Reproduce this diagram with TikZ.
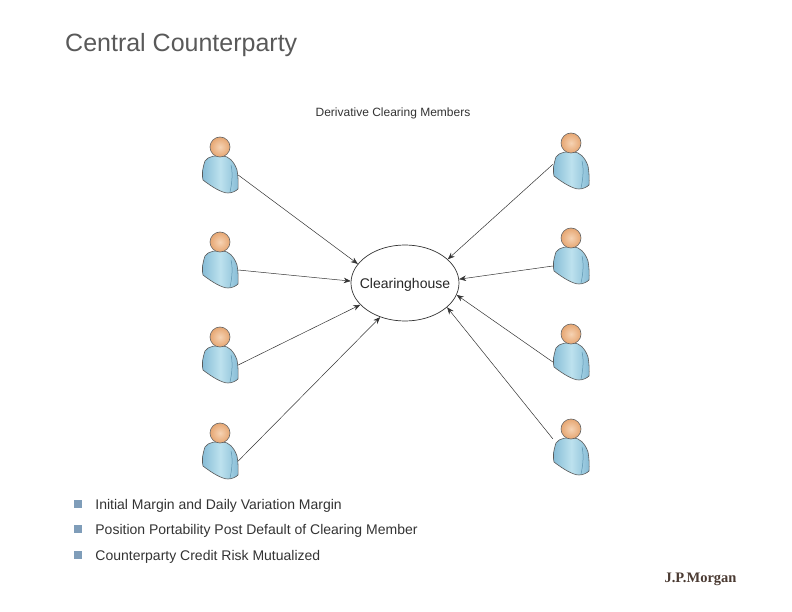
\documentclass[tikz,border=0pt]{standalone}
\usepackage{fontspec}
\setmainfont{Liberation Sans}
\newfontfamily\logofont{Liberation Serif}
\usepackage{xcolor}
\usetikzlibrary{arrows.meta,positioning,shapes.geometric}
\definecolor{titlegray}{HTML}{595959}
\definecolor{bulletblue}{HTML}{7F9DB9}
\definecolor{logobrown}{HTML}{4A3A32}
\definecolor{bodyedge}{HTML}{86BCD6}
\definecolor{bodylight}{HTML}{BDE2EE}
\definecolor{bodyseam}{HTML}{5E94B0}
\definecolor{skinlight}{HTML}{F6D3B4}
\definecolor{skindark}{HTML}{E6A672}
\tikzset{
  member/.style={rectangle, minimum width=36pt, minimum height=36pt, inner sep=0pt},
  hub/.style={ellipse, draw=black!80, line width=0.7pt, minimum width=108pt, minimum height=76pt,
    inner xsep=-8pt, inner ysep=0pt, text depth=0pt, font=\fontsize{14}{16}\selectfont, text=black!85},
  tr/.style={-{Stealth[length=7pt,width=5.5pt]}, draw=black!80, line width=0.5pt},
  bullet/.style={rectangle, fill=bulletblue, minimum size=8pt, inner sep=0pt},
  point/.style={font=\fontsize{14}{16}\selectfont, text=black!80, inner sep=0pt, text height=10pt, text depth=0pt},
  pics/user/.style={code={
    % shoulders and torso
    \draw[draw=black!65, line width=0.6pt, left color=bodyedge, right color=bodyedge, middle color=bodylight]
      (-15,-14) .. controls (-18,-5) and (-18,0) .. (-17,5)
      .. controls (-8,12) and (2,18) .. (8,18)
      .. controls (12,18) and (16,16) .. (18,14)
      .. controls (18.5,8) and (18,0) .. (17,-5)
      .. controls (14,-14) and (8,-19) .. (3,-19)
      .. controls (-3,-20) and (-12,-19) .. (-15,-14) -- cycle;
    \draw[bodyseam, line width=0.5pt] (11,-10) .. controls (13,-2) and (12,8) .. (10,17);
    % head
    \draw[draw=black!60, line width=0.6pt, inner color=skinlight, outer color=skindark] (0,-28) circle (10);
  }},
}
\begin{document}
\begin{tikzpicture}[x=1pt, y=-1pt]
  \useasboundingbox (0,0) rectangle (792,612);
  \node[anchor=base west, inner sep=0pt, text=titlegray, font=\fontsize{25}{28}\selectfont] (title) at (65,52) {Central Counterparty};
  \node[font=\fontsize{12}{14}\selectfont, text=black!80, inner sep=0pt, text depth=0pt] (caption) at (393,112) {Derivative Clearing Members};
  \node[hub] (house) at (405,283) {Clearinghouse};
  % left column, then right column
  \node[member] (m1) at (220,175) {};
  \node[member] (m2) at (220,270) {};
  \node[member] (m3) at (220,365) {};
  \node[member] (m4) at (220,461) {};
  \node[member] (m5) at (571,171) {};
  \node[member] (m6) at (571,266) {};
  \node[member] (m7) at (571,362) {};
  \node[member] (m8) at (571,457) {};
  \foreach \i in {1,...,8} \pic at (m\i) {user};
  \draw[tr] (m1.east) -- (house.158);
  \draw[tr] (m2.east) -- (house.178);
  \draw[tr] (m3.east) -- (house.206);
  \draw[tr] (m4.east) -- (house.234);
  \draw[tr] (m5.160) -- (house.29);
  \draw[tr] (m6.west) -- (house.4);
  \draw[tr] (m7.west) -- (house.347);
  \draw[tr] (m8.135) -- (house.330);
  % bullet list
  \node[bullet] (b1) at (78,504) {};
  \node[bullet] (b2) at (78,529) {};
  \node[bullet] (b3) at (78,555) {};
  \node[point, right=13pt of b1] (p1) {Initial Margin and Daily Variation Margin};
  \node[point, right=13pt of b2] (p2) {Position Portability Post Default of Clearing Member};
  \node[point, right=13pt of b3] (p3) {Counterparty Credit Risk Mutualized};
  \node[inner sep=0pt, text=logobrown, font=\logofont\bfseries\fontsize{14.5}{16}\selectfont] (logo) at (700.5,579.5) {J.P.Morgan};
\end{tikzpicture}
\end{document}
